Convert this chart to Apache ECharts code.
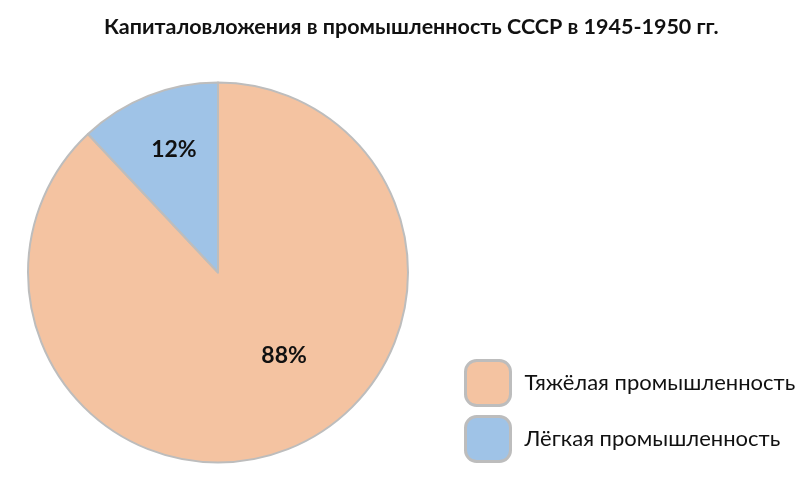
<!DOCTYPE html>
<html>
<head>
<meta charset="utf-8">
<script src="https://cdn.jsdelivr.net/npm/echarts@6/dist/echarts.min.js"></script>
<style>
  html, body { margin: 0; padding: 0; background: #fff; }
  #chart { width: 807px; height: 501px; }
</style>
</head>
<body>
<div id="chart"></div>
<script>
var titleText = 'Капиталовложения в промышленность СССР в 1945-1950 гг.';
var categories = ['Тяжёлая промышленность', 'Лёгкая промышленность'];
var values = [88, 12];
var colors = ['#f4c3a1', '#9fc3e7'];
// nudges so labels sit where the original puts them
var labelOffsets = [[30, -8], [-8, -32]];

var myChart = echarts.init(document.getElementById('chart'));

var pieData = categories.map(function (name, i) {
    return {
        name: name,
        value: values[i],
        itemStyle: { color: colors[i] },
        label: { offset: labelOffsets[i] }
    };
});

var option = {
    backgroundColor: '#fff',
    animation: false,
    title: {
        text: titleText,
        left: 99,
        top: 11,
        textStyle: {
            fontFamily: 'Lato',
            fontWeight: 'bold',
            fontSize: 21.5,
            color: '#111'
        }
    },
    legend: {
        orient: 'vertical',
        left: 459,
        top: 354,
        itemWidth: 45,
        itemHeight: 45,
        itemGap: 8,
        icon: 'roundRect',
        itemStyle: {
            borderColor: '#bdbdbd',
            borderWidth: 3
        },
        textStyle: {
            fontFamily: 'Lato',
            fontSize: 22,
            color: '#111',
            padding: [0, 0, 0, 9]
        },
        data: categories
    },
    series: [
        {
            type: 'pie',
            center: [218, 272.5],
            radius: 190,
            startAngle: 90,
            clockwise: true,
            silent: true,
            itemStyle: {
                borderColor: '#bdbdbd',
                borderWidth: 2
            },
            label: {
                show: true,
                position: 'inside',
                formatter: '{c}%',
                fontFamily: 'Lato',
                fontWeight: 'bold',
                fontSize: 23,
                color: '#111'
            },
            labelLine: { show: false },
            data: pieData
        }
    ]
};
myChart.setOption(option);
</script>
</body>
</html>
